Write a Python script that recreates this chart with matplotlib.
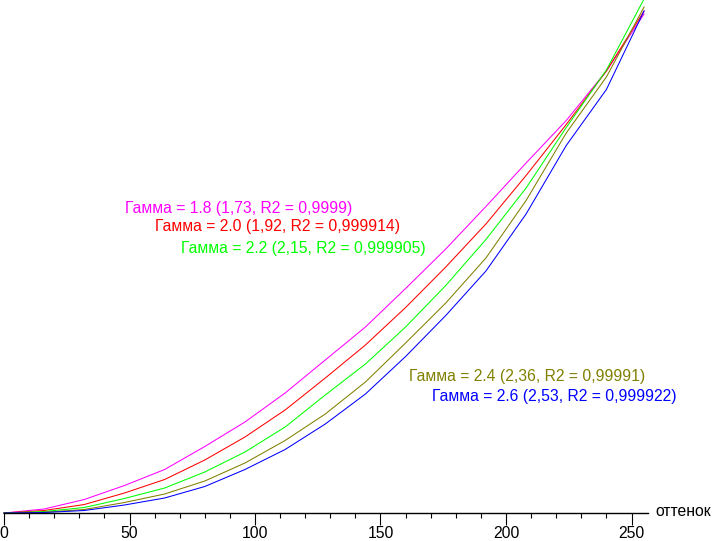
import matplotlib
matplotlib.use("Agg")
import matplotlib.pyplot as plt
from matplotlib.ticker import MultipleLocator

plt.rcParams['font.family'] = ['Liberation Sans', 'DejaVu Sans']

levels = [0, 16, 32, 48, 64, 80, 96, 112, 128, 144, 160, 176, 192, 208, 224, 240, 255]
g18 = [0, 0.008, 0.027, 0.055, 0.087, 0.133, 0.182, 0.240, 0.306, 0.372, 0.449, 0.528, 0.613, 0.700, 0.785, 0.884, 0.998]
g20 = [0, 0.005, 0.017, 0.040, 0.067, 0.106, 0.152, 0.206, 0.270, 0.336, 0.411, 0.492, 0.578, 0.675, 0.777, 0.884, 1.004]
g22 = [0, 0.003, 0.011, 0.029, 0.050, 0.082, 0.122, 0.172, 0.236, 0.298, 0.372, 0.455, 0.547, 0.650, 0.771, 0.886, 1.028]
g24 = [0, 0.0015, 0.007, 0.021, 0.038, 0.064, 0.100, 0.145, 0.198, 0.262, 0.340, 0.420, 0.510, 0.625, 0.760, 0.872, 1.012]
g26 = [0, 0.001, 0.005, 0.016, 0.030, 0.053, 0.087, 0.127, 0.178, 0.238, 0.313, 0.395, 0.484, 0.598, 0.735, 0.847, 1.004]

series = [g18, g20, g22, g24, g26]
colors = ['#ff00ff', '#ff0000', '#00ff00', '#808000', '#0000ff']
labels = ['Гамма = 1.8 (1,73, R2 = 0,9999)',
          'Гамма = 2.0 (1,92, R2 = 0,999914)',
          'Гамма = 2.2 (2,15, R2 = 0,999905)',
          'Гамма = 2.4 (2,36, R2 = 0,99991)',
          'Гамма = 2.6 (2,53, R2 = 0,999922)']
label_pos = [(125, 208), (155, 227), (181, 249), (409, 377), (432, 397)]
xlabel = 'оттенок'

W, H = 712, 541
fig = plt.figure(figsize=(W / 100, H / 100), dpi=100)
fig.patch.set_facecolor('white')
ax = fig.add_axes([4 / W, (H - 513) / H, 644 / W, 513 / H])
ax.set_xlim(0, 644 / 2.51)
ax.set_ylim(0, 513 / 500)

for s, c in zip(series, colors):
    ax.plot(levels, s, color=c, lw=0.75, clip_on=False, antialiased=True)

for sp in ['top', 'right', 'left']:
    ax.spines[sp].set_visible(False)
ax.spines['bottom'].set_linewidth(1.0)
ax.yaxis.set_visible(False)
ax.xaxis.set_major_locator(MultipleLocator(50))
ax.xaxis.set_minor_locator(MultipleLocator(10))
ax.set_xticks([0, 50, 100, 150, 200, 250])
ax.tick_params(axis='x', which='major', length=8.6, width=0.8, pad=1, labelsize=11.3)
ax.tick_params(axis='x', which='minor', length=3.8, width=0.8)

for (px, py), t, c in zip(label_pos, labels, colors):
    fig.text(px / W, 1 - py / H, t, color=c, fontsize=11.3, ha='left', va='center')

fig.text(655 / W, 1 - 512 / H, xlabel, color='black', fontsize=11.3, ha='left', va='center')

fig.savefig('out.png', dpi=100, facecolor='white')
